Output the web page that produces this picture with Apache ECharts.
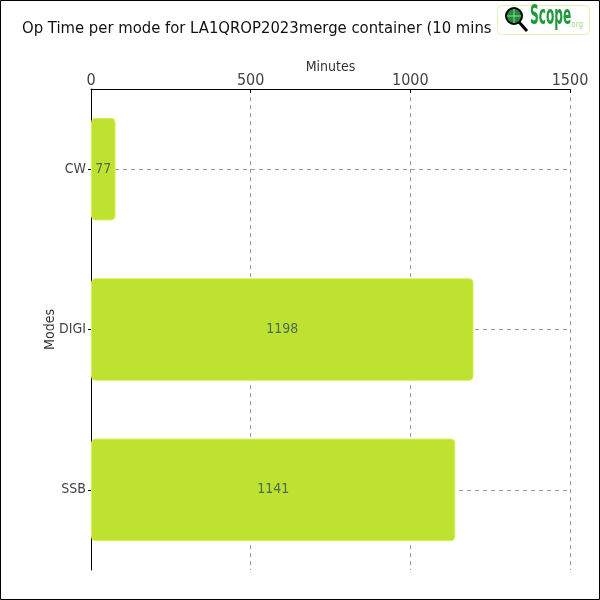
<!DOCTYPE html>
<html>
<head>
<meta charset="utf-8">
<script src="https://cdn.jsdelivr.net/npm/echarts@6/dist/echarts.min.js"></script>
<style>
html,body{margin:0;padding:0;background:#fff;}
#c{width:600px;height:600px;}
</style>
</head>
<body>
<div id="c"></div>
<script>
const categories = ['CW', 'DIGI', 'SSB'];
const minutes = [77, 1198, 1141];
const xTicks = [0, 500, 1000, 1500];
const titleText = 'Op Time per mode for LA1QROP2023merge container (10 mins per period)';

const FONT = '"DejaVu Sans Condensed", "DejaVu Sans", sans-serif';
const chart = echarts.init(document.getElementById('c'));
chart.setOption({
  animation: false,
  title: {
    text: titleText,
    left: 17, top: 15,
    textStyle: {fontFamily: FONT, fontSize: 16.5, fontWeight: 'normal', color: '#111'}
  },
  grid: {left: 91, right: 30, top: 89, bottom: 30},
  xAxis: {
    type: 'value', position: 'top', min: xTicks[0], max: xTicks[xTicks.length - 1], interval: 500,
    name: 'Minutes', nameLocation: 'middle', nameGap: 15, nameMoveOverlap: false,
    nameTextStyle: {fontFamily: FONT, fontSize: 14, color: '#333'},
    axisLine: {show: true, lineStyle: {color: '#000', width: 1}},
    axisTick: {show: true, inside: true, length: 4, lineStyle: {color: '#000'}},
    axisLabel: {fontFamily: FONT, fontSize: 16, color: '#444', margin: 0, formatter: v => String(v)},
    splitLine: {show: true, lineStyle: {color: '#999', type: [4, 4]}}
  },
  yAxis: {
    type: 'category', data: categories, inverse: true,
    name: 'Modes', nameLocation: 'middle', nameGap: 34, nameMoveOverlap: false,
    nameTextStyle: {fontFamily: FONT, fontSize: 14, color: '#333'},
    axisLine: {show: true, lineStyle: {color: '#000', width: 1}},
    axisTick: {show: true, alignWithLabel: true, length: 3, lineStyle: {color: '#000'}},
    axisLabel: {fontFamily: FONT, fontSize: 14, color: '#444', margin: 5},
    splitLine: {show: false}
  },
  series: [
    {
      type: 'line', data: [], z: 1, silent: true,
      markLine: {
        z: 1, symbol: 'none', silent: true, label: {show: false},
        lineStyle: {color: '#999', type: [4, 4], width: 1},
        data: categories.map(c => ({yAxis: c}))
      }
    },
    {
      type: 'bar', data: minutes, barWidth: '64%', z: 3,
      itemStyle: {color: '#bee22f', borderColor: '#d6f25a', borderWidth: 1, borderRadius: 4},
      label: {show: true, position: 'inside', fontFamily: FONT, fontSize: 14, color: '#4a6a5a'}
    }
  ],
  graphic: [
    {type: 'rect', shape: {x: 496, y: 4, width: 104, height: 34}, style: {fill: '#fff'}, z: 100},
    {type: 'rect', shape: {x: 497.5, y: 5.5, width: 92, height: 29, r: 4}, style: {fill: '#fff', stroke: '#e6efb8', lineWidth: 1}, z: 101},
    {type: 'line', shape: {x1: 519, y1: 22, x2: 527, y2: 31}, style: {stroke: '#000', lineWidth: 3}, z: 102},
    {type: 'circle', shape: {cx: 514, cy: 16, r: 8}, style: {fill: '#1e8a3a', stroke: '#000', lineWidth: 2}, z: 103},
    {type: 'line', shape: {x1: 514, y1: 9, x2: 514, y2: 23}, style: {stroke: '#9ed89a', lineWidth: 1}, z: 104},
    {type: 'line', shape: {x1: 507, y1: 16, x2: 521, y2: 16}, style: {stroke: '#9ed89a', lineWidth: 1}, z: 104},
    {type: 'text', x: 530, y: 4, scaleX: 0.52, style: {text: 'Scope', fontFamily: FONT, fontSize: 26, fontWeight: 'bold', fill: '#1f9a3c'}, z: 104},
    {type: 'text', x: 569, y: 21, style: {text: '.org', fontFamily: FONT, fontSize: 8, fill: '#a8d494'}, z: 104},
    {type: 'rect', shape: {x: 0.5, y: 0.5, width: 599, height: 599}, style: {fill: 'none', stroke: '#000', lineWidth: 1}, z: 200}
  ]
});
</script>
</body>
</html>
